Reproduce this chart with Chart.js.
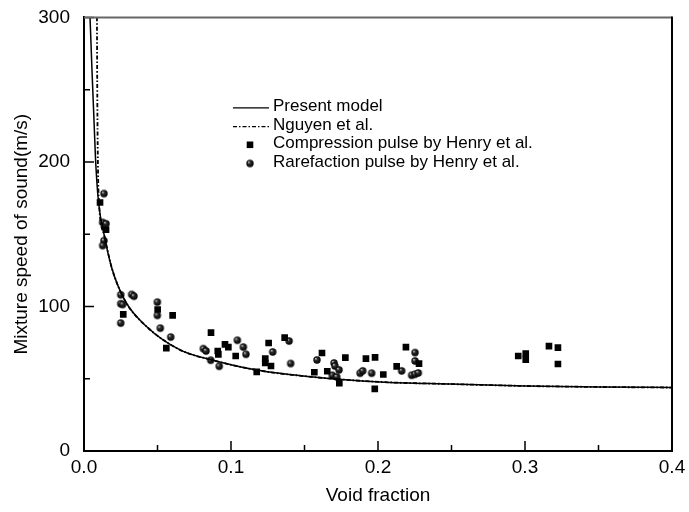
<!DOCTYPE html>
<html>
<head>
<meta charset="utf-8">
<script src="https://cdn.jsdelivr.net/npm/chart.js@4/dist/chart.umd.min.js"></script>
<style>
  html, body { margin: 0; padding: 0; background: #fff; }
  #wrap { width: 689px; height: 512px; }
</style>
</head>
<body>
<div id="wrap"><canvas id="chart"></canvas></div>
<script>
// ---- data ----
const presentX = [0.0041, 0.0078, 0.0098, 0.0136, 0.0188, 0.0279, 0.0427, 0.0653, 0.0878, 0.1175, 0.1558, 0.2014, 0.25, 0.30, 0.35, 0.40];
const presentY = [300, 203, 173, 150, 127, 104, 86, 70, 62.8, 56, 51.2, 47.8, 46.3, 45.0, 44.3, 43.9];

const nguyenX = [0.0088, 0.0090, 0.0093, 0.0100, 0.0136, 0.0188, 0.0279, 0.0427, 0.0653, 0.0878, 0.1175, 0.1558, 0.2014, 0.25, 0.30, 0.35, 0.40];
const nguyenY = [300, 255, 212, 176, 150, 127, 104, 86, 70, 62.8, 56, 51.2, 47.8, 46.3, 45.0, 44.3, 43.9];

const compX = [0.0109, 0.0150, 0.0267, 0.0501, 0.0603, 0.0560, 0.0864, 0.0910, 0.0914, 0.0959, 0.0982, 0.1032,
  0.1175, 0.1256, 0.1233, 0.1233, 0.1272, 0.1365, 0.1619, 0.1567, 0.1655, 0.1737, 0.1778, 0.1918, 0.1980,
  0.1978, 0.2036, 0.2127, 0.2190, 0.2279, 0.2954, 0.3005, 0.3005, 0.3163, 0.3224, 0.3224];
const compY = [171.9, 153.1, 94.5, 97.9, 93.8, 71.2, 81.9, 69.2, 66.9, 73.8, 71.9, 65.7,
  54.7, 74.7, 63.9, 60.9, 58.8, 78.4, 67.8, 54.5, 55.2, 46.9, 64.6, 63.9, 64.8,
  43.0, 52.9, 58.6, 71.9, 60.5, 65.7, 67.4, 63.2, 72.6, 71.5, 60.2];

const rareX = [0.0136, 0.0127, 0.0150, 0.0136, 0.0127, 0.0250, 0.0263, 0.0250, 0.0324, 0.0340, 0.0250,
  0.0499, 0.0499, 0.0519, 0.0590, 0.0812, 0.0830, 0.0862, 0.0920, 0.1043, 0.1084, 0.1102, 0.1284,
  0.1395, 0.1406, 0.1585, 0.1701, 0.1707, 0.1735, 0.1689, 0.1719, 0.1878, 0.1896, 0.1957, 0.2161,
  0.2252, 0.2252, 0.2229, 0.2252, 0.2274];
const rareY = [178.1, 158.1, 157.2, 145.5, 142.1, 101.9, 101.4, 108.1, 108.3, 107.1, 88.5,
  103.0, 93.8, 85.0, 78.8, 70.8, 69.2, 62.8, 58.6, 76.6, 71.9, 66.9, 68.5,
  76.1, 60.5, 63.0, 60.9, 58.8, 56.1, 52.4, 51.2, 53.8, 55.4, 53.8, 55.4,
  68.1, 62.3, 52.4, 53.1, 54.0];

const xTicks = [0, 0.1, 0.2, 0.3, 0.4];
const yTicks = [0, 100, 200, 300];

const legendLabels = ['Present model', 'Nguyen et al.', 'Compression pulse by Henry et al.', 'Rarefaction pulse by Henry et al.'];

// ---- helpers ----
const FONT = "'Liberation Sans', Arial, sans-serif";
Chart.defaults.font.family = FONT;
Chart.defaults.font.size = 19;
Chart.defaults.color = '#000';

const pts = (xs, ys) => xs.map((x, i) => ({ x, y: ys[i] }));

// shaded sphere marker
function ball(r) {
  const c = document.createElement('canvas');
  const s = Math.ceil(r * 2) + 2;
  c.width = c.height = s;
  const g = c.getContext('2d');
  const grad = g.createRadialGradient(s / 2 - r * 0.35, s / 2 - r * 0.4, r * 0.1, s / 2, s / 2, r);
  grad.addColorStop(0, '#b0b0b0');
  grad.addColorStop(0.35, '#2a2a2a');
  grad.addColorStop(1, '#000');
  g.fillStyle = grad;
  g.beginPath();
  g.arc(s / 2, s / 2, r, 0, Math.PI * 2);
  g.fill();
  return c;
}
const ballImg = ball(3.7);

// inward ticks + top/right frame
const framePlugin = {
  id: 'frame',
  afterDatasetsDraw(chart) {
    const { ctx, chartArea: a, scales: { x, y } } = chart;
    ctx.save();
    ctx.strokeStyle = '#000';
    ctx.lineWidth = 1.5;
    const minor = arr => arr.slice(1).map((v, i) => (v + arr[i]) / 2);
    ctx.beginPath();
    xTicks.forEach(v => { const px = x.getPixelForValue(v); ctx.moveTo(px, a.bottom); ctx.lineTo(px, a.bottom - 10); });
    minor(xTicks).forEach(v => { const px = x.getPixelForValue(v); ctx.moveTo(px, a.bottom); ctx.lineTo(px, a.bottom - 6); });
    yTicks.forEach(v => { const py = y.getPixelForValue(v); ctx.moveTo(a.left, py); ctx.lineTo(a.left + 10, py); });
    minor(yTicks).forEach(v => { const py = y.getPixelForValue(v); ctx.moveTo(a.left, py); ctx.lineTo(a.left + 6, py); });
    ctx.stroke();
    // top border (greyish) and right border
    ctx.strokeStyle = '#666';
    ctx.lineWidth = 2;
    ctx.beginPath(); ctx.moveTo(a.left, a.top); ctx.lineTo(a.right, a.top); ctx.stroke();
    ctx.strokeStyle = '#000';
    ctx.beginPath(); ctx.moveTo(a.right, a.top - 1); ctx.lineTo(a.right, a.bottom); ctx.stroke();
    ctx.restore();
  }
};

// legend inside the plot
const legendPlugin = {
  id: 'innerLegend',
  afterDraw(chart) {
    const { ctx, chartArea: a } = chart;
    const x0 = a.left + 149, y0 = a.top + 89, rowH = 18.7;
    ctx.save();
    ctx.font = '17px ' + FONT;
    ctx.fillStyle = '#000';
    ctx.textBaseline = 'middle';
    chart.data.datasets.forEach((ds, i) => {
      const yy = y0 + i * rowH;
      if (ds.showLine) {
        ctx.strokeStyle = '#000';
        ctx.lineWidth = 1.3;
        ctx.setLineDash(ds.borderDash || []);
        ctx.beginPath(); ctx.moveTo(x0, yy + 1.5); ctx.lineTo(x0 + 36, yy + 1.5); ctx.stroke();
        ctx.setLineDash([]);
      } else if (ds.pointStyle === 'rect') {
        ctx.fillRect(x0 + 17 - 3.3, yy + 1 - 3.3, 6.6, 6.6);
      } else {
        ctx.drawImage(ballImg, x0 + 17 - ballImg.width / 2, yy + 1 - ballImg.height / 2);
      }
      ctx.fillText(ds.label, x0 + 40, yy);
    });
    ctx.restore();
  }
};

new Chart(document.getElementById('chart'), {
  type: 'scatter',
  data: {
    datasets: [
      { label: legendLabels[0], data: pts(presentX, presentY), showLine: true, borderColor: '#000', borderWidth: 1.5,
        pointRadius: 0, cubicInterpolationMode: 'monotone' },
      { label: legendLabels[1], data: pts(nguyenX, nguyenY), showLine: true, borderColor: '#000', borderWidth: 1.8,
        borderDash: [4, 2, 1.5, 2], pointRadius: 0, cubicInterpolationMode: 'monotone' },
      { label: legendLabels[2], data: pts(compX, compY), showLine: false, pointStyle: 'rect', pointRadius: 4.7,
        backgroundColor: '#000', borderColor: '#000', borderWidth: 0 },
      { label: legendLabels[3], data: pts(rareX, rareY), showLine: false, pointStyle: ballImg, pointRadius: 3.7 }
    ]
  },
  options: {
    responsive: true,
    maintainAspectRatio: false,
    animation: false,
    layout: { padding: { left: 0, top: 16, right: 17, bottom: 0 } },
    plugins: { legend: { display: false }, tooltip: { enabled: false } },
    scales: {
      x: {
        type: 'linear', min: 0, max: 0.4,
        afterBuildTicks: s => { s.ticks = xTicks.map(v => ({ value: v })); },
        afterFit: s => { s.height = 61; },
        ticks: { padding: -3, callback: v => v.toFixed(1) },
        grid: { display: false },
        border: { display: true, color: '#000', width: 2 },
        title: { display: true, text: 'Void fraction', padding: { top: 0, bottom: 5 } }
      },
      y: {
        type: 'linear', min: 0, max: 300,
        afterBuildTicks: s => { s.ticks = yTicks.map(v => ({ value: v })); },
        afterFit: s => { s.width = 84; },
        ticks: { padding: 6 },
        grid: { display: false },
        border: { display: true, color: '#000', width: 2 },
        title: { display: true, text: 'Mixture speed of sound(m/s)', padding: { top: 10, bottom: 0 } }
      }
    }
  },
  plugins: [framePlugin, legendPlugin]
});
</script>
</body>
</html>
